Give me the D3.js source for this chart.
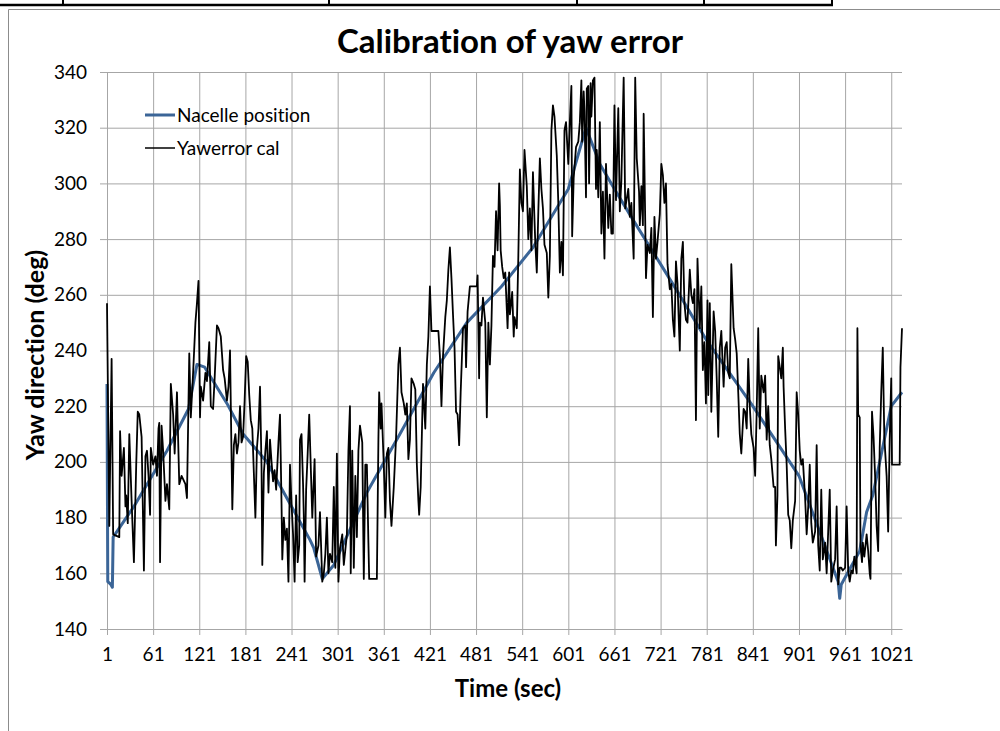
<!DOCTYPE html>
<html>
<head>
<meta charset="utf-8">
<script src="https://d3js.org/d3.v7.min.js"></script>
<style>
  body { margin: 0; background: #ffffff; }
  svg text { font-family: Lato, "Open Sans", sans-serif; fill: #000; font-variant-ligatures: none; }
</style>
</head>
<body>
<svg id="chart"></svg>
<script>
// values
let title = 'Calibration of yaw error'
let xTitle = 'Time (sec)'
let yTitle = 'Yaw direction (deg)'
let seriesNames = ['Nacelle position', 'Yawerror cal']

let xTicks = [1, 61, 121, 181, 241, 301, 361, 421, 481, 541, 601, 661, 721, 781, 841, 901, 961, 1021]
let yTicks = [140, 160, 180, 200, 220, 240, 260, 280, 300, 320, 340]
let lastSecond = 1035

// [time, deg]
let nacellePosition = [
  [1,228],[2,157],[6,156],[8,155],[9,173],[36,184],[79,204],[107,219],[118,235],[128,234],
  [157,221],[178,210],[209,200],[241,184],[265,172],[270,169],[281,158],[296,163],[339,189],
  [382,210],[426,232],[469,250],[514,263],[555,277],[601,298],[624,320],[642,307],[661,298],
  [685,287],[721,271],[750,258],[780,244],[841,220],[901,195],[952,157],[954,151],[956,156],
  [980,168],[989,182],[997,188],[1021,220],[1035,225]
]

// [time, deg]
let yawerrorCal = [
  [1,257],[4,177],[7,237],[9,174],[17,173],
  [18,211],[20,195],[23,205],[25,184],[26,188],[28,178],[30,210],[33,186],[36,164],[39,199],
  [41,218],[43,217],[46,209],[49,161],[51,202],[53,204],[55,195],[57,181],[58,205],[61,199],
  [64,202],[66,195],[68,212],[69,214],[70,164],[72,213],[74,204],[77,186],[79,192],[82,183],
  [84,228],[87,217],[89,203],[92,225],[95,192],[98,195],[103,192],[105,187],[108,239],[110,216],
  [113,232],[116,250],[118,257],[120,265],[122,216],[123,227],[126,222],[129,232],[131,229],
  [134,243],[136,220],[139,219],[141,230],[144,249],[146,248],[149,245],[152,233],[154,230],
  [157,222],[159,227],[161,240],
  [164,183],[166,206],[168,210],[170,203],[172,207],[174,220],[176,207],[178,209],[180,222],
  [182,238],[184,236],[186,224],[188,215],[190,212],[192,196],[194,180],[196,205],[198,212],
  [200,227],[202,198],[203,163],[205,196],[207,204],[209,211],[211,189],[213,208],[215,200],
  [217,193],[219,197],[221,190],[224,207],[226,217],[228,185],[229,165],[231,180],[233,172],
  [235,176],[237,157],[239,199],[241,185],[243,174],[245,157],[247,188],[249,164],[251,170],
  [252,208],[254,210],[256,192],[257,180],[258,157],[260,190],[262,203],[264,217],
  [268,180],[271,201],[273,166],[276,170],[278,182],[281,157],[283,160],[285,167],[287,180],
  [289,160],[291,167],[294,164],[296,191],[298,162],[300,203],[302,157],[304,169],[307,174],
  [309,163],[313,174],[315,204],[317,220],[318,160],[320,204],[322,162],[324,195],[326,173],
  [328,204],[330,213],[333,207],[335,158],[337,199],[339,199],[341,171],[342,158],[352,158],
  [354,208],[355,225],[357,212],[358,221],[361,199],[363,180],[365,203],[367,205],[369,186],
  [371,177],[374,191],[377,209],[380,235],[382,241],[384,225],[387,221],[389,217],[391,221],
  [393,201],[395,208],[397,230],[400,228],[402,226],[404,199],[406,186],[407,181],[409,191],
  [412,228],[415,212],[417,235],[419,245],[421,263],[423,247],[432,247],[434,238],[436,220],
  [438,238],[441,252],[443,258],[445,269],[447,277],[449,266],[451,253],[453,241],[455,218],
  [457,217],[459,206],[461,225],[464,248],[467,249],[468,234],[470,254],[473,263],[482,263],
  [483,267],[485,230],[486,250],[488,249],[490,259],[493,250],[495,216],[497,250],[499,235],
  [501,249],[503,274],[505,270],[507,290],[509,276],[511,300],[512,292],[513,276],[515,270],
  [517,266],[519,268],[522,248],[524,268],
  [525,253],[527,258],[528,261],[530,245],[531,252],[534,248],[536,274],[538,305],[540,293],
  [542,290],[544,312],[547,299],[549,280],[551,291],[553,276],[555,304],[557,287],[558,279],
  [560,268],[562,290],[564,309],[566,298],[568,291],[570,278],[573,275],[575,259],[577,274],
  [579,319],[581,328],[583,324],[586,310],[588,293],[590,268],[592,279],[594,267],[596,319],
  [598,322],[601,307],[603,322],[605,335],[606,281],[608,302],[611,313],[614,315],[616,322],
  [618,337],[619,315],[621,333],[622,326],[624,295],[625,334],[627,335],[628,300],[630,336],
  [631,324],[633,337],[635,338],[637,298],[638,312],[640,295],[642,322],[644,282],[646,297],
  [648,273],[650,307],[653,284],[655,296],[657,282],[659,282],[661,328],[663,294],[666,327],
  [668,290],[670,301],[673,338],[675,291],[679,298],[681,288],[683,293],[686,273],[688,338],
  [690,309],[693,297],[694,285],[696,299],[698,285],[699,325],[701,287],[702,266],[704,278],
  [707,275],[709,284],[711,252],[713,288],[715,273],[717,279],[720,289],[722,307],[724,303],
  [726,293],[728,300],[730,271],[733,262],[735,264],[737,251],[739,245],[741,272],[743,264],
  [746,240],[748,273],[750,279],[752,257],[754,251],[756,250],[759,269],[761,260],[763,257],
  [765,262],[767,215],[769,273],[772,248],[774,263],[776,233],[778,243],[780,221],[782,258],
  [783,224],[785,257],[787,218],[790,254],[792,247],[794,230],[796,209],[798,241],[800,247],
  [803,227],[805,241],[807,243],[809,232],[811,230],[813,271],[816,248],[818,244],[820,239],
  [822,225],[824,210],[826,203],[829,219],[831,218],[833,212],[835,237],[837,220],[839,210],
  [842,205],[844,195],[846,218],[848,248],[850,212],[852,231],[855,225],[857,231],[859,208],
  [861,220],[863,206],[865,201],[868,191],[870,191],[871,170],[873,188],[874,238],[876,234],
  [878,230],[880,241],[881,227],[883,212],[885,199],[887,181],[889,179],[891,169],[893,179],
  [896,186],[898,225],[900,217],[902,204],[904,199],[906,201],[909,187],[911,174],[913,184],
  [915,199],[917,178],[919,171],[922,175],[924,206],[926,170],[928,161],[930,190],[932,165],
  [935,171],[937,160],[939,175],[941,190],[943,157],[945,161],[948,165],[950,184],[952,156],
  [954,162],[956,162],[958,161],[961,162],[963,184],[965,161],[967,157],[969,161],[971,160],
  [973,166],[976,160],[977,248],[978,217],[980,216],[981,170],[983,164],[984,171],[986,166],
  [989,174],[991,168],[993,160],[994,158],[996,218],[998,209],[1000,195],[1002,177],[1004,168],
  [1006,205],[1008,225],[1010,241],[1012,209],[1015,195],[1017,175],[1019,208],[1021,230],
  [1022,199],[1032,199],[1033,234],[1035,248]
]

let width = 1000
let height = 731
let plotLeft = 107
let plotRight = 902
let plotTop = 72
let plotBottom = 629

let gridColor = '#a6a6a6'
let nacelleColor = '#3b6597'

let svg = d3.select('#chart')
            .attr('width', width)
            .attr('height', height)

let xScale = d3.scaleLinear()
               .domain([1, lastSecond])
               .range([plotLeft, plotRight])

let yScale = d3.scaleLinear()
               .domain([140, 340])
               .range([plotBottom, plotTop])

let drawFrame = () => {
    // bits of the table above the chart
    svg.append('line')
       .attr('x1', 0).attr('x2', 833)
       .attr('y1', 5).attr('y2', 5)
       .attr('stroke', '#000').attr('stroke-width', 2.5)
    let cellEdges = [63, 329, 577, 704, 832]
    svg.selectAll('.cell-edge')
       .data(cellEdges)
       .enter()
       .append('line')
       .attr('class', 'cell-edge')
       .attr('x1', (d) => d).attr('x2', (d) => d)
       .attr('y1', 0).attr('y2', 6)
       .attr('stroke', '#000').attr('stroke-width', 2)

    // chart area outline
    svg.append('path')
       .attr('d', 'M1000,9.5 H8.5 V731')
       .attr('fill', 'none')
       .attr('stroke', '#8c8c8c')
       .attr('stroke-width', 1)
}

let drawAxes = () => {
    let yGrid = d3.axisLeft(yScale)
                  .tickValues(yTicks)
                  .tickSize(-(plotRight - plotLeft))
                  .tickFormat('')
    svg.append('g')
       .attr('class', 'grid')
       .attr('transform', 'translate(' + plotLeft + ',0)')
       .call(yGrid)

    let xGrid = d3.axisBottom(xScale)
                  .tickValues(xTicks)
                  .tickSize(-(plotBottom - plotTop))
                  .tickFormat('')
    svg.append('g')
       .attr('class', 'grid')
       .attr('transform', 'translate(0,' + plotBottom + ')')
       .call(xGrid)

    svg.selectAll('.grid line').attr('stroke', gridColor)
    svg.selectAll('.grid .domain').remove()

    let yAxis = d3.axisLeft(yScale)
                  .tickValues(yTicks)
                  .tickSize(7)
                  .tickPadding(13)
                  .tickSizeOuter(0)
                  .tickFormat(d3.format('d'))
    svg.append('g')
       .attr('id', 'y-axis')
       .attr('transform', 'translate(' + plotLeft + ',0)')
       .call(yAxis)

    let xAxis = d3.axisBottom(xScale)
                  .tickValues(xTicks)
                  .tickSize(6)
                  .tickPadding(13)
                  .tickSizeOuter(0)
                  .tickFormat(d3.format('d'))
    svg.append('g')
       .attr('id', 'x-axis')
       .attr('transform', 'translate(0,' + plotBottom + ')')
       .call(xAxis)

    svg.selectAll('#x-axis path, #y-axis path, #x-axis line, #y-axis line')
       .attr('stroke', gridColor)
    svg.selectAll('#x-axis text, #y-axis text')
       .style('font-size', '19px')
       .attr('fill', '#000')
}

let drawLines = () => {
    let line = d3.line()
                 .x((d) => xScale(d[0]))
                 .y((d) => yScale(d[1]))

    svg.append('path')
       .datum(nacellePosition)
       .attr('d', line)
       .attr('fill', 'none')
       .attr('stroke', nacelleColor)
       .attr('stroke-width', 3)
       .attr('stroke-linejoin', 'round')

    svg.append('path')
       .datum(yawerrorCal)
       .attr('d', line)
       .attr('fill', 'none')
       .attr('stroke', '#000')
       .attr('stroke-width', 1.8)
       .attr('stroke-linejoin', 'round')
}

let drawTexts = () => {
    svg.append('text')
       .attr('x', 510)
       .attr('y', 53)
       .attr('text-anchor', 'middle')
       .style('font-size', '33px')
       .style('font-weight', 'bold')
       .text(title)

    svg.append('text')
       .attr('x', 508)
       .attr('y', 697)
       .attr('text-anchor', 'middle')
       .style('font-size', '24px')
       .style('font-weight', 'bold')
       .text(xTitle)

    svg.append('text')
       .attr('transform', 'translate(44,355) rotate(-90)')
       .attr('text-anchor', 'middle')
       .style('font-size', '25px')
       .style('font-weight', 'bold')
       .text(yTitle)

    // legend
    let legendColors = [nacelleColor, '#000']
    let legendWidths = [3, 1.5]
    let legend = svg.selectAll('.legend')
                    .data(seriesNames)
                    .enter()
                    .append('g')
                    .attr('class', 'legend')
                    .attr('transform', (d, i) => 'translate(145,' + (115 + i * 33) + ')')
    legend.append('line')
          .attr('x1', 0).attr('x2', 30)
          .attr('stroke', (d, i) => legendColors[i])
          .attr('stroke-width', (d, i) => legendWidths[i])
    legend.append('text')
          .attr('x', 32)
          .attr('dy', '0.36em')
          .style('font-size', '19px')
          .text((d) => d)
}

drawFrame()
drawAxes()
drawLines()
drawTexts()
</script>
</body>
</html>
